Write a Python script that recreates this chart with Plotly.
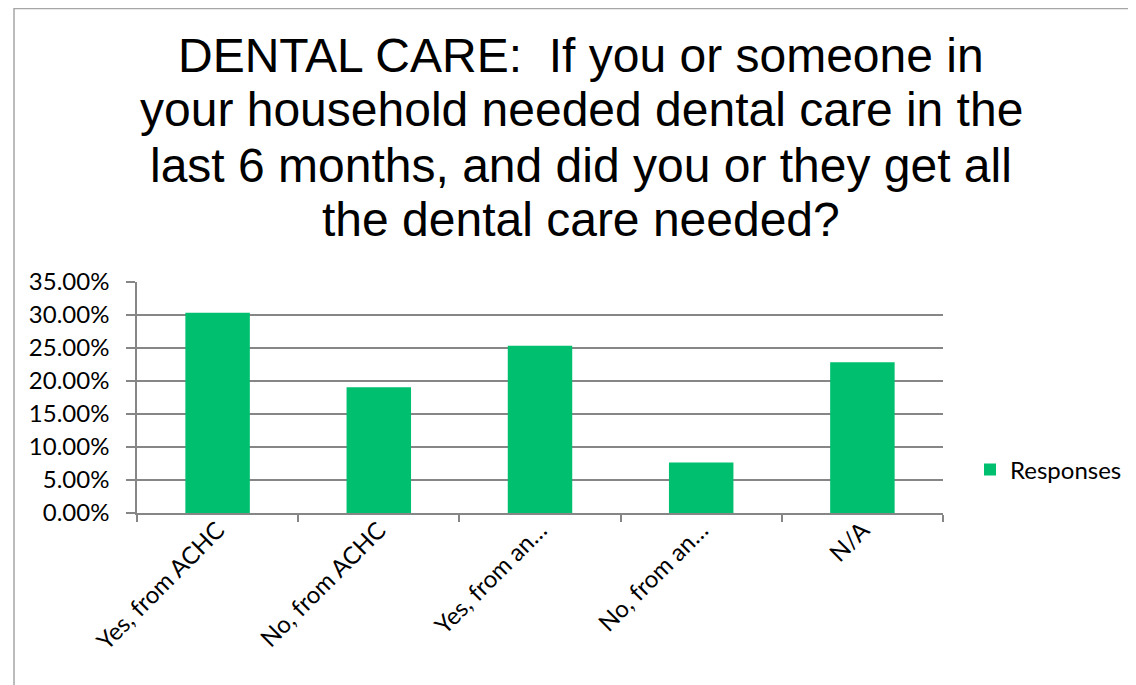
import plotly.graph_objects as go

# survey data
categories = ["Yes, from ACHC", "No, from ACHC", "Yes, from an…", "No, from an…", "N/A"]
responses = [0.3035, 0.1905, 0.2535, 0.0765, 0.2285]
series_name = "Responses"

title_lines = [
    "DENTAL CARE:  If you or someone in",
    "your household needed dental care in the",
    "last 6 months, and did you or they get all",
    "the dental care needed?",
]

W, H = 1136, 685
ML, MR, MT, MB = 129, 201, 274, 180
PW, PH = W - ML - MR, H - MT - MB


def px_x(x):
    return (x - ML) / PW


def px_y(y):
    return (H - MB - y) / PH


fig = go.Figure()
fig.add_trace(go.Bar(
    x=categories,
    y=responses,
    name=series_name,
    marker=dict(color="#00BF6F", line=dict(width=0)),
    showlegend=True,
))

# title as separate lines to match tight line spacing
title_centers = [47, 102, 157, 211]
annotations = []
for line, yc in zip(title_lines, title_centers):
    annotations.append(dict(
        text=line, xref="paper", yref="paper",
        x=px_x(573), y=px_y(yc), xanchor="center", yanchor="middle",
        showarrow=False,
        font=dict(family="Liberation Sans, Arial", size=48, color="#000000"),
    ))

fig.update_layout(
    width=W, height=H,
    margin=dict(l=ML, r=MR, t=MT, b=MB),
    paper_bgcolor="white", plot_bgcolor="white",
    font=dict(family="Lato", size=24, color="#000000"),
    bargap=0.6,
    annotations=annotations,
    legend=dict(
        x=px_x(962), y=px_y(462), xanchor="left", yanchor="middle",
        font=dict(family="Lato", size=24, color="#000000"),
        bgcolor="rgba(0,0,0,0)",
    ),
    shapes=[dict(
        type="rect", xref="paper", yref="paper",
        x0=px_x(6), x1=px_x(1145), y0=px_y(695), y1=px_y(0.5),
        line=dict(color="#a6a6a6", width=1.5), layer="below",
    )],
)

fig.update_xaxes(
    type="category", tickangle=-45,
    showline=True, linecolor="#868686", linewidth=1.5,
    ticks="outside", tickson="boundaries", ticklen=7, tickcolor="#868686", tickwidth=1.5,
    showgrid=False,
    tickfont=dict(family="Lato", size=24),
    ticklabelstandoff=-8,
)
fig.update_yaxes(
    range=[0, 0.35], dtick=0.05, tickformat=".2%",
    showline=True, linecolor="#868686", linewidth=1.5,
    ticks="outside", ticklen=9, tickcolor="#868686", tickwidth=1.5,
    showgrid=True, gridcolor="#868686", gridwidth=1.5,
    zeroline=False,
    tickfont=dict(family="Lato", size=24),
    ticklabelstandoff=12,
)

fig.write_html("out.html")
